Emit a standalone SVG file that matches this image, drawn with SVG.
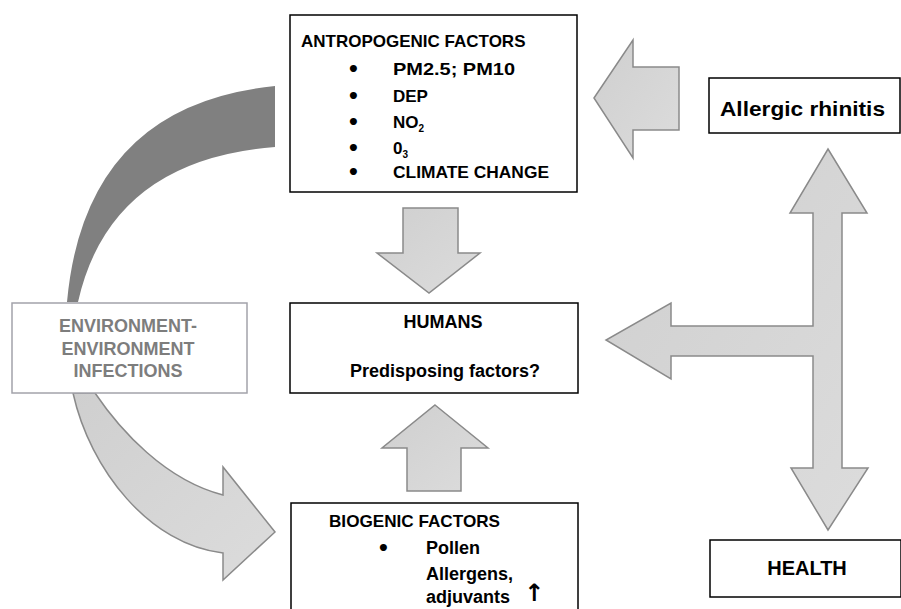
<svg xmlns="http://www.w3.org/2000/svg" width="901" height="609" viewBox="0 0 901 609">
<style>
.box{fill:#fff;stroke:#000;stroke-width:1.5}
.ebox{fill:#fff;stroke:#a3a3aa;stroke-width:1.5}
.t{font-family:"Liberation Sans",Arial,sans-serif;font-weight:bold;fill:#000}
.b{font-family:"DejaVu Sans",sans-serif;font-weight:bold;fill:#000;font-size:20px}
.et{font-family:"Liberation Sans",Arial,sans-serif;font-weight:bold;fill:#7d7d7d;font-size:18px}
.arr{fill:url(#g);stroke:#8a8a8a;stroke-width:1.5;stroke-linejoin:miter}
.dark{fill:#808080}
</style>
<defs>
<linearGradient id="g" x1="0" y1="0" x2="1" y2="1">
<stop offset="0" stop-color="#cfcfcf"/>
<stop offset="1" stop-color="#dcdcdc"/>
</linearGradient>
</defs>
<g id="connectors">
<path class="dark" d="M275,86 L275,147 Q110,160 78,302 L67,302 Q85,105 275,86 Z"/>
<path class="arr" d="M73,393 L95,393 C120,430 165,480 223,495 L223,467 L275,532 L223,580 L223,553 C150,545 90,470 73,393 Z"/>
<polygon class="arr" points="594,98 633,40 633,67 679,67 679,130 633,130 633,158"/>
<polygon class="arr" points="403,208 458,208 458,253 480,253 429,293 377,253 403,253"/>
<polygon class="arr" points="435,405 488,448 461,448 461,491 407,491 407,448 382,448"/>
<polygon class="arr" points="828,149 867,213 842,213 842,468 868,468 828,530 791,468 813,468 813,356 671,356 671,379 606,340 671,303 671,326 813,326 813,213 790,213"/>
</g>
<g id="antropogenic">
<rect class="box" x="290" y="15" width="287" height="177"/>
<text class="t" x="301" y="47" font-size="17">ANTROPOGENIC FACTORS</text>
<text class="b" x="347" y="76">•</text>
<text class="t" x="393" y="75" font-size="17" textLength="122" lengthAdjust="spacingAndGlyphs">PM2.5; PM10</text>
<text class="b" x="347" y="103">•</text>
<text class="t" x="393" y="102" font-size="17">DEP</text>
<text class="b" x="347" y="129">•</text>
<text class="t" x="393" y="128" font-size="17">NO<tspan font-size="10" dy="4">2</tspan></text>
<text class="b" x="347" y="155">•</text>
<text class="t" x="393" y="154" font-size="17">0<tspan font-size="10" dy="4">3</tspan></text>
<text class="b" x="347" y="179">•</text>
<text class="t" x="393" y="178" font-size="17" textLength="156" lengthAdjust="spacingAndGlyphs">CLIMATE CHANGE</text>
</g>
<g id="allergic">
<rect class="box" x="709" y="78" width="191" height="55"/>
<text class="t" x="720" y="116" font-size="21" textLength="165" lengthAdjust="spacingAndGlyphs">Allergic rhinitis</text>
</g>
<g id="humans">
<rect class="box" x="290" y="303" width="288" height="90"/>
<text class="t" x="443" y="328" font-size="18" text-anchor="middle">HUMANS</text>
<text class="t" x="445" y="377" font-size="18" text-anchor="middle">Predisposing factors?</text>
</g>
<g id="environment">
<rect class="ebox" x="12" y="303" width="235" height="90"/>
<text class="et" x="128" y="332" text-anchor="middle">ENVIRONMENT-</text>
<text class="et" x="128" y="355" text-anchor="middle">ENVIRONMENT</text>
<text class="et" x="128" y="377" text-anchor="middle">INFECTIONS</text>
</g>
<g id="biogenic">
<rect class="box" x="291" y="503" width="287" height="120"/>
<text class="t" x="329" y="527" font-size="17" textLength="171" lengthAdjust="spacingAndGlyphs">BIOGENIC FACTORS</text>
<text class="b" x="377" y="555">•</text>
<text class="t" x="426" y="554" font-size="18">Pollen</text>
<text class="t" x="426" y="580" font-size="18">Allergens,</text>
<text class="t" x="426" y="603" font-size="18">adjuvants</text>
<text x="524" y="601" font-family="DejaVu Sans,sans-serif" font-weight="bold" font-size="24" fill="#000">↑</text>
</g>
<g id="health">
<rect class="box" x="710" y="540" width="191" height="57"/>
<text class="t" x="807" y="575" font-size="20" text-anchor="middle">HEALTH</text>
</g>
</svg>
